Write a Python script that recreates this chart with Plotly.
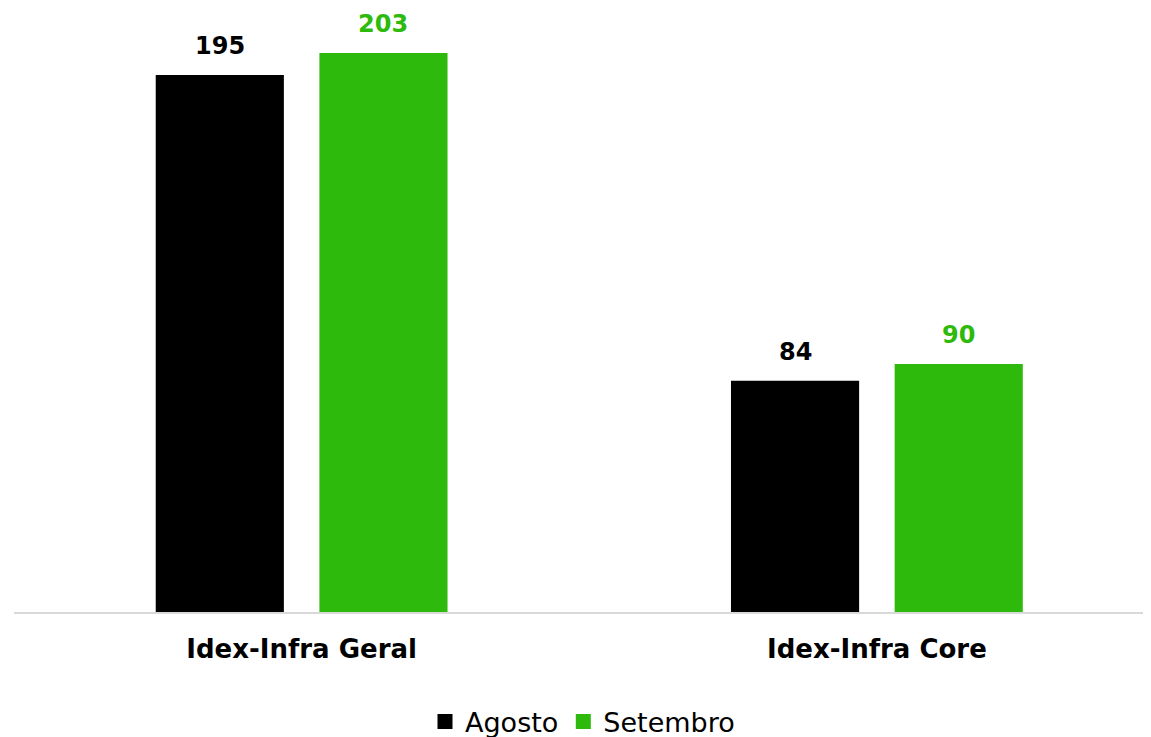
import plotly.graph_objects as go

categories = ["Idex-Infra Geral", "Idex-Infra Core"]
agosto = [195, 84]
setembro = [203, 90]
series_names = ["Agosto", "Setembro"]
colors = ["#000000", "#2EBA0C"]

FONT = "DejaVu Sans, sans-serif"

fig = go.Figure()
offsets = [-81.75, 81.75]
for i, (name, vals, col) in enumerate(zip(series_names, [agosto, setembro], colors)):
    fig.add_trace(go.Bar(
        x=categories, y=vals, name=name, marker=dict(color=col, line=dict(width=0)),
        showlegend=False,
    ))
    for c, v in zip(categories, vals):
        fig.add_annotation(x=c, y=v, text=f"<b>{v}</b>", showarrow=False,
                           xshift=offsets[i], yanchor="middle", yshift=29,
                           font=dict(family=FONT, size=24, color=col))
# legend entries with larger square swatches
for name, col in zip(series_names, colors):
    fig.add_trace(go.Scatter(
        x=[None], y=[None], mode="markers", name=name,
        marker=dict(symbol="square", size=15, color=col),
    ))

fig.update_layout(
    width=1143, height=729,
    margin=dict(l=6, r=0, t=0, b=125, autoexpand=False),
    paper_bgcolor="white", plot_bgcolor="white",
    barmode="group", bargap=0.431, bargroupgap=0.217,
    font=dict(family=FONT, color="#000000"),
    showlegend=True,
    legend=dict(orientation="h", x=0.5, xanchor="center",
                yref="container", y=0.0206, yanchor="middle",
                font=dict(family=FONT, size=27, color="#000000"),
                itemwidth=30, tracegroupgap=0, traceorder="normal"),
)
fig.update_xaxes(range=[-0.5, 1.4765], showgrid=False, showline=True,
                 linecolor="#D9D9D9", linewidth=2, ticks="", ticklabelstandoff=13,
                 tickfont=dict(family=FONT, size=26, color="#000000", weight="bold"))
fig.update_yaxes(range=[0, 219.3], visible=False, showgrid=False, zeroline=False)

fig.write_html("out.html")
